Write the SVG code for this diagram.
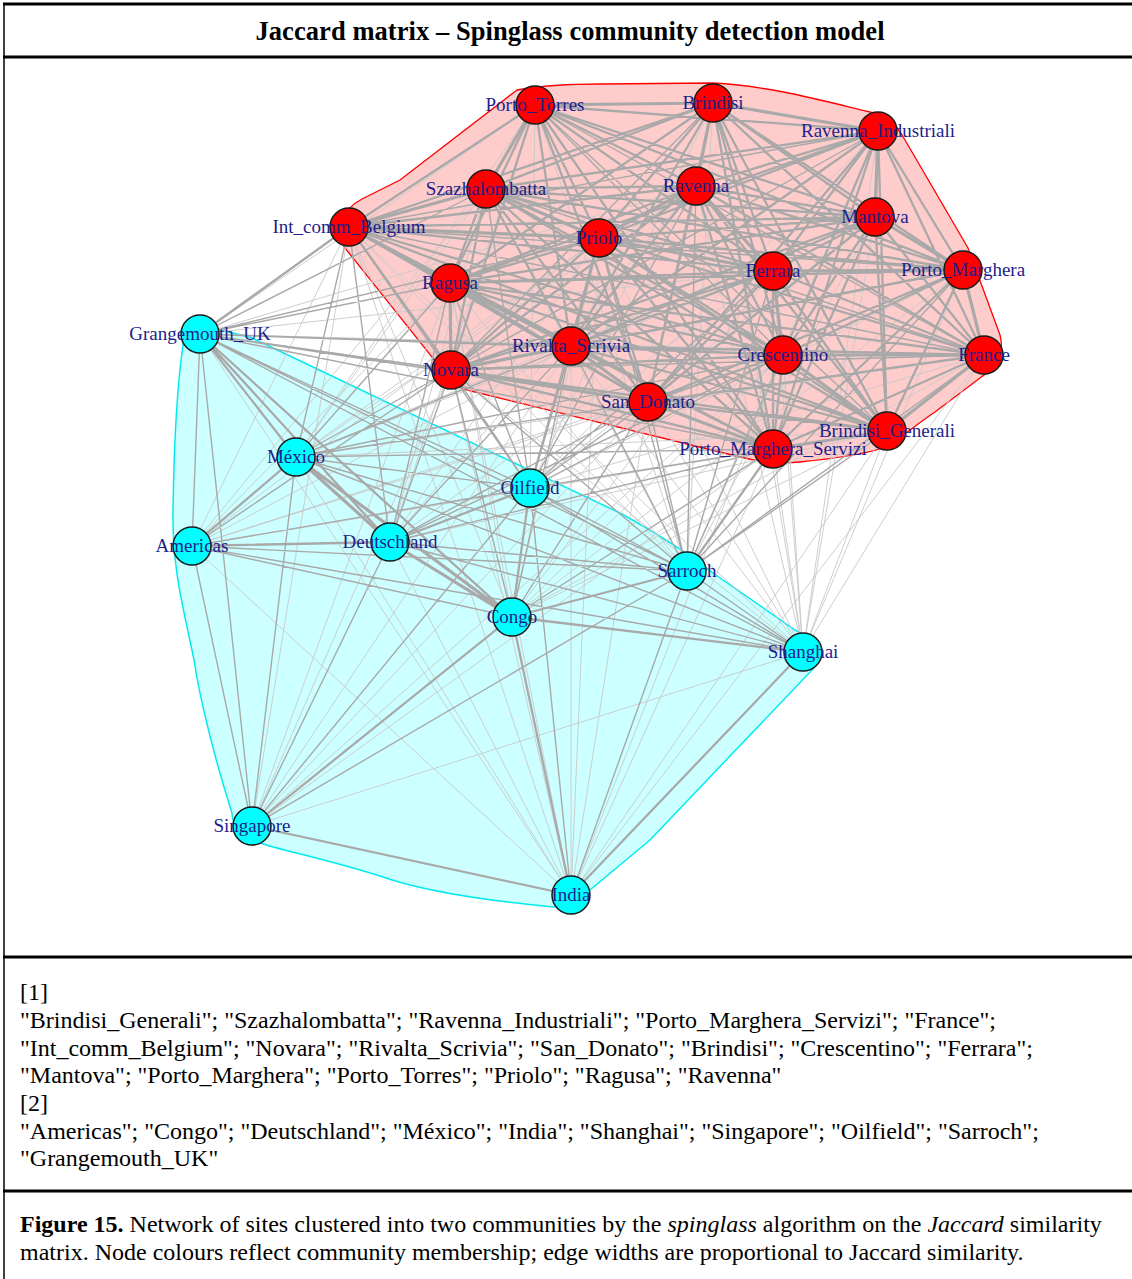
<svg xmlns="http://www.w3.org/2000/svg" width="1132" height="1279" viewBox="0 0 1132 1279">
<style>
.rule{stroke:#000;fill:none}
.edge{fill:none;stroke:#a9a9a9;stroke-linecap:round}
.ea{stroke-width:3.2}
.eb{stroke-width:2.3}
.ec{stroke-width:1.4}
.ed{stroke-width:0.9;stroke:#c8c8c8}
.node circle{stroke:#1a1a1a;stroke-width:1.5}
.red circle{fill:#ff0000}
.cyan circle{fill:#00ffff}
.node text{font-family:"Liberation Serif","Times New Roman",serif;font-size:19px;fill:#1e1e8c;text-anchor:middle}
.body{font-family:"Liberation Serif","Times New Roman",serif;font-size:24px;fill:#000}
</style>
<rect width="1132" height="1279" fill="#fff"/>

<!-- frame and panel rules -->
<g id="frame">
<line class="rule" x1="4" y1="3" x2="4" y2="1279" stroke-width="1.5"/>
<line class="rule" x1="3" y1="4" x2="1132" y2="4" stroke-width="3"/>
<line class="rule" x1="3" y1="57" x2="1132" y2="57" stroke-width="3"/>
<line class="rule" x1="3" y1="957" x2="1132" y2="957" stroke-width="3"/>
<line class="rule" x1="3" y1="1191" x2="1132" y2="1191" stroke-width="3"/>
</g>

<text id="title" x="570" y="40" text-anchor="middle" font-family="'Liberation Serif','Times New Roman',serif" font-weight="bold" font-size="26.5" textLength="629">Jaccard matrix – Spinglass community detection model</text>

<!-- community hulls -->
<g id="communities">
<path id="hull-1" fill="#ffcccc" stroke="#ff0000" stroke-width="1.3" d="M345 248L436 362C442 378 452 386 467 390L740 457C760 462 780 464 800 462C830 459 860 455 880 449C900 440 915 425 935 412L980 378C1000 364 1004 350 1000 335L968 248L905 140C895 122 885 115 870 112C820 100 770 86 713 83L600 84C565 84 540 86 517 90L400 180L362 199C340 210 335 235 345 248Z"/>
<path id="hull-2" fill="#ccffff" stroke="#00eaf2" stroke-width="1.5" d="M183 345C183 335 190 328 200 328C215 328 235 333 252 338L487 450L620 513C660 535 690 555 713 573L795 630C815 640 825 655 812 670L650 840L590 890C580 902 568 908 553 907C480 900 420 890 383 877C330 860 280 850 260 843C240 835 232 825 232 813C215 760 200 700 194 660C184 610 172 570 173 510C174 440 178 380 183 345Z"/>
</g>

<!-- similarity edges, grouped by weight -->
<g id="edges" class="edge">
<path class="ed" d="M200 334L535 105M200 334L984 355M200 334L773 271M200 334L887 431M200 334L696 186
M296 457L599 238M296 457L486 189M296 457L887 431M296 457L773 271M296 457L984 355M296 457L696 186M296 457L535 105M296 457L875 217
M530 488L535 105M530 488L713 103M530 488L984 355M530 488L963 270M530 488L875 217M530 488L878 131
M192 546L349 227M192 546L450 283M192 546L571 346M192 546L648 402M192 546L783 355M192 546L773 449M192 546L486 189M192 546L599 238
M390 542L599 238M390 542L887 431M390 542L773 271M390 542L486 189M390 542L535 105M390 542L696 186
M687 571L349 227M687 571L450 283M687 571L486 189M687 571L535 105M687 571L713 103M687 571L875 217M687 571L878 131
M512 617L450 283M512 617L349 227M512 617L599 238M512 617L783 355M512 617L887 431M512 617L773 271M512 617L984 355M512 617L963 270
M803 652L451 370M803 652L571 346M803 652L648 402M803 652L783 355M803 652L773 449M803 652L887 431M803 652L984 355M803 652L963 270M803 652L773 271M803 652L875 217M803 652L696 186M803 652L599 238M803 652L349 227M803 652L878 131M803 652L713 103
M252 826L451 370M252 826L571 346M252 826L648 402M252 826L773 449M252 826L783 355M252 826L349 227M252 826L450 283
M571 895L451 370M571 895L571 346M571 895L648 402M571 895L773 449M571 895L783 355M571 895L887 431M571 895L984 355M571 895L450 283M571 895L349 227M571 895L599 238
M200 334L571 895M296 457L571 895M192 546L571 895M390 542L571 895M803 652L252 826"/>
<path class="ec" d="M535 105L783 355M535 105L984 355M535 105L887 431M713 103L451 370M878 131L349 227M878 131L451 370M486 189L984 355M349 227L963 270M349 227L984 355M984 355L451 370
M200 334L486 189M200 334L450 283M200 334L599 238M200 334L571 346M200 334L451 370M200 334L648 402M200 334L783 355M200 334L773 449
M296 457L349 227M296 457L450 283M296 457L451 370M296 457L571 346M296 457L648 402M296 457L783 355M296 457L773 449
M530 488L451 370M530 488L450 283M530 488L349 227M530 488L648 402M530 488L599 238M530 488L486 189M530 488L696 186M530 488L773 271M530 488L783 355M530 488L773 449M530 488L887 431
M192 546L451 370
M390 542L349 227M390 542L450 283M390 542L451 370M390 542L571 346M390 542L648 402M390 542L783 355M390 542L773 449
M687 571L451 370M687 571L571 346M687 571L648 402M687 571L599 238M687 571L696 186M687 571L773 271M687 571L783 355M687 571L887 431M687 571L984 355M687 571L963 270
M512 617L451 370M512 617L571 346M512 617L648 402M512 617L773 449
M200 334L530 488M200 334L192 546M200 334L687 571M200 334L803 652M200 334L252 826M296 457L530 488M296 457L687 571M296 457L803 652M296 457L252 826M530 488L192 546M530 488L687 571M530 488L803 652M530 488L252 826M530 488L571 895M192 546L687 571M192 546L512 617M192 546L803 652M192 546L252 826M390 542L687 571M390 542L803 652M390 542L252 826M687 571L803 652M687 571L252 826M687 571L571 895"/>
<path class="eb" d="M535 105L878 131M535 105L696 186M535 105L349 227M535 105L599 238M535 105L875 217M535 105L773 271M535 105L963 270M535 105L450 283M535 105L571 346M535 105L451 370M535 105L648 402M535 105L773 449
M713 103L486 189M713 103L349 227M713 103L599 238M713 103L875 217M713 103L773 271M713 103L963 270M713 103L450 283M713 103L571 346M713 103L783 355M713 103L984 355M713 103L648 402M713 103L887 431M713 103L773 449
M878 131L486 189M878 131L696 186M878 131L599 238M878 131L773 271M878 131L963 270M878 131L450 283M878 131L571 346M878 131L783 355M878 131L984 355M878 131L648 402M878 131L887 431M878 131L773 449
M486 189L696 186M486 189L875 217M486 189L773 271M486 189L963 270M486 189L450 283M486 189L571 346M486 189L783 355M486 189L451 370M486 189L648 402M486 189L887 431M486 189L773 449
M696 186L349 227M696 186L875 217M696 186L963 270M696 186L450 283M696 186L571 346M696 186L783 355M696 186L984 355M696 186L451 370M696 186L648 402M696 186L887 431M696 186L773 449
M349 227L875 217M349 227L773 271M349 227L571 346M349 227L783 355M349 227L451 370M349 227L648 402M349 227L887 431M349 227L773 449
M599 238L875 217M599 238L963 270M599 238L450 283M599 238L783 355M599 238L984 355M599 238L451 370M599 238L648 402M599 238L887 431M599 238L773 449
M875 217L773 271M875 217L450 283M875 217L571 346M875 217L783 355M875 217L984 355M875 217L451 370M875 217L648 402M875 217L887 431M875 217L773 449
M773 271L450 283M773 271L571 346M773 271L984 355M773 271L451 370M773 271L648 402M773 271L887 431M773 271L773 449
M963 270L450 283M963 270L571 346M963 270L783 355M963 270L451 370M963 270L648 402M963 270L887 431M963 270L773 449
M450 283L783 355M450 283L984 355M450 283L648 402M450 283L887 431M450 283L773 449
M571 346L783 355M571 346L984 355M571 346L887 431M571 346L773 449
M783 355L451 370M783 355L648 402M783 355L773 449M984 355L648 402M984 355L773 449M451 370L887 431M451 370L773 449M648 402L887 431
M200 334L349 227M530 488L571 346M687 571L773 449
M200 334L296 457M200 334L390 542M200 334L512 617M296 457L192 546M530 488L390 542M530 488L512 617M192 546L390 542M687 571L512 617M512 617L803 652M512 617L252 826M512 617L571 895M803 652L571 895M252 826L571 895"/>
<path class="ea" d="M535 105L713 103M535 105L486 189M713 103L878 131M713 103L696 186M878 131L875 217M486 189L349 227M486 189L599 238M696 186L599 238M696 186L773 271M349 227L599 238M349 227L450 283M599 238L773 271M599 238L571 346M875 217L963 270M773 271L963 270M773 271L783 355M963 270L984 355M450 283L571 346M450 283L451 370M571 346L451 370M571 346L648 402M783 355L984 355M783 355L887 431M984 355L887 431M451 370L648 402M648 402L773 449M887 431L773 449
M296 457L390 542M296 457L512 617M390 542L512 617"/>
</g>

<!-- community 1 -->
<g id="node-porto-torres" class="node red"><circle cx="535" cy="105" r="19"/><text x="535" y="111">Porto_Torres</text></g>
<g id="node-brindisi" class="node red"><circle cx="713" cy="103" r="19"/><text x="713" y="109">Brindisi</text></g>
<g id="node-ravenna-industriali" class="node red"><circle cx="878" cy="131" r="19"/><text x="878" y="137">Ravenna_Industriali</text></g>
<g id="node-szazhalombatta" class="node red"><circle cx="486" cy="189" r="19"/><text x="486" y="195">Szazhalombatta</text></g>
<g id="node-ravenna" class="node red"><circle cx="696" cy="186" r="19"/><text x="696" y="192">Ravenna</text></g>
<g id="node-int-comm-belgium" class="node red"><circle cx="349" cy="227" r="19"/><text x="349" y="233">Int_comm_Belgium</text></g>
<g id="node-priolo" class="node red"><circle cx="599" cy="238" r="19"/><text x="599" y="244">Priolo</text></g>
<g id="node-mantova" class="node red"><circle cx="875" cy="217" r="19"/><text x="875" y="223">Mantova</text></g>
<g id="node-ferrara" class="node red"><circle cx="773" cy="271" r="19"/><text x="773" y="277">Ferrara</text></g>
<g id="node-porto-marghera" class="node red"><circle cx="963" cy="270" r="19"/><text x="963" y="276">Porto_Marghera</text></g>
<g id="node-ragusa" class="node red"><circle cx="450" cy="283" r="19"/><text x="450" y="289">Ragusa</text></g>
<g id="node-rivalta-scrivia" class="node red"><circle cx="571" cy="346" r="19"/><text x="571" y="352">Rivalta_Scrivia</text></g>
<g id="node-crescentino" class="node red"><circle cx="783" cy="355" r="19"/><text x="783" y="361">Crescentino</text></g>
<g id="node-france" class="node red"><circle cx="984" cy="355" r="19"/><text x="984" y="361">France</text></g>
<g id="node-novara" class="node red"><circle cx="451" cy="370" r="19"/><text x="451" y="376">Novara</text></g>
<g id="node-san-donato" class="node red"><circle cx="648" cy="402" r="19"/><text x="648" y="408">San_Donato</text></g>
<g id="node-brindisi-generali" class="node red"><circle cx="887" cy="431" r="19"/><text x="887" y="437">Brindisi_Generali</text></g>
<g id="node-porto-marghera-servizi" class="node red"><circle cx="773" cy="449" r="19"/><text x="773" y="455">Porto_Marghera_Servizi</text></g>

<!-- community 2 -->
<g id="node-grangemouth-uk" class="node cyan"><circle cx="200" cy="334" r="19"/><text x="200" y="340">Grangemouth_UK</text></g>
<g id="node-mexico" class="node cyan"><circle cx="296" cy="457" r="19"/><text x="296" y="463">México</text></g>
<g id="node-oilfield" class="node cyan"><circle cx="530" cy="488" r="19"/><text x="530" y="494">Oilfield</text></g>
<g id="node-americas" class="node cyan"><circle cx="192" cy="546" r="19"/><text x="192" y="552">Americas</text></g>
<g id="node-deutschland" class="node cyan"><circle cx="390" cy="542" r="19"/><text x="390" y="548">Deutschland</text></g>
<g id="node-sarroch" class="node cyan"><circle cx="687" cy="571" r="19"/><text x="687" y="577">Sarroch</text></g>
<g id="node-congo" class="node cyan"><circle cx="512" cy="617" r="19"/><text x="512" y="623">Congo</text></g>
<g id="node-shanghai" class="node cyan"><circle cx="803" cy="652" r="19"/><text x="803" y="658">Shanghai</text></g>
<g id="node-singapore" class="node cyan"><circle cx="252" cy="826" r="19"/><text x="252" y="832">Singapore</text></g>
<g id="node-india" class="node cyan"><circle cx="571" cy="895" r="19"/><text x="571" y="901">India</text></g>

<!-- membership listing -->
<g id="membership" class="body">
<text x="20" y="1000">[1]</text>
<text x="20" y="1028">"Brindisi_Generali"; "Szazhalombatta"; "Ravenna_Industriali"; "Porto_Marghera_Servizi"; "France";</text>
<text x="20" y="1056">"Int_comm_Belgium"; "Novara"; "Rivalta_Scrivia"; "San_Donato"; "Brindisi"; "Crescentino"; "Ferrara";</text>
<text x="20" y="1083">"Mantova"; "Porto_Marghera"; "Porto_Torres"; "Priolo"; "Ragusa"; "Ravenna"</text>
<text x="20" y="1111">[2]</text>
<text x="20" y="1139">"Americas"; "Congo"; "Deutschland"; "México"; "India"; "Shanghai"; "Singapore"; "Oilfield"; "Sarroch";</text>
<text x="20" y="1166">"Grangemouth_UK"</text>
</g>

<g id="caption" class="body">
<text x="20" y="1232"><tspan font-weight="bold">Figure 15.</tspan> Network of sites clustered into two communities by the <tspan font-style="italic">spinglass</tspan> algorithm on the <tspan font-style="italic">Jaccard</tspan> similarity</text>
<text x="20" y="1260">matrix. Node colours reflect community membership; edge widths are proportional to Jaccard similarity.</text>
</g>
</svg>
